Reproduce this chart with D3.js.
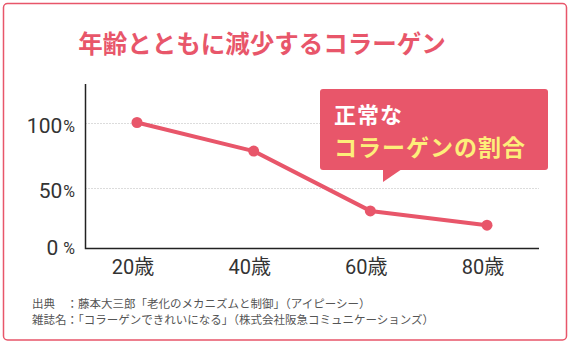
<!DOCTYPE html>
<html>
<head>
<meta charset="utf-8">
<script src="https://cdn.jsdelivr.net/npm/d3@7"></script>
<style>
  html, body { margin: 0; padding: 0; background: #fff; }
  svg { display: block; }
  text { font-family: "Noto Sans CJK JP", sans-serif; }
  .num { font-family: Roboto, "Noto Sans CJK JP", sans-serif; }
</style>
</head>
<body>
<svg id="chart" width="570" height="343"></svg>
<script>
// Collagen ratio by age (%)
const ages = ["20歳", "40歳", "60歳", "80歳"];
const collagen = [100, 78, 32, 21];
const yTicks = [0, 50, 100];
const titleText = "年齢とともに減少するコラーゲン";
const calloutLines = ["正常な", "コラーゲンの割合"];
const sources = [
  "出典　：藤本大三郎「老化のメカニズムと制御」（アイピーシー）",
  "雑誌名：「コラーゲンできれいになる」（株式会社阪急コミュニケーションズ）"
];

const RED = "#e8566a";
const YELLOW = "#fdee7a";

const svg = d3.select("#chart");

// outer frame
svg.append("rect")
  .attr("x", 3.5).attr("y", 3.5)
  .attr("width", 563).attr("height", 336.5)
  .attr("rx", 4)
  .attr("fill", "#fff")
  .attr("stroke", RED)
  .attr("stroke-width", 1.5);

// title
svg.append("text")
  .attr("x", 262).attr("y", 42)
  .attr("text-anchor", "middle")
  .attr("dominant-baseline", "central")
  .attr("font-size", 24.5)
  .attr("font-weight", 700)
  .attr("fill", RED)
  .text(titleText);

// scales
const x = d3.scalePoint().domain(ages).range([137, 487]);
const y = d3.scaleLinear().domain([0, 100]).range([252.5, 122.5]);

const axisLeft = 85.5, axisBottom = 248, axisRight = 539, axisTop = 84;

// dotted gridlines
svg.append("g")
  .selectAll("line")
  .data(yTicks.filter(d => d > 0))
  .join("line")
  .attr("x1", axisLeft).attr("x2", axisRight)
  .attr("y1", d => Math.round(y(d)) + 0.5)
  .attr("y2", d => Math.round(y(d)) + 0.5)
  .attr("stroke", "#b8b8b8")
  .attr("stroke-width", 1)
  .attr("stroke-dasharray", "1,2");

// axis lines
svg.append("path")
  .attr("d", `M${axisLeft},${axisTop}V${axisBottom + 0.5}H${axisRight}`)
  .attr("fill", "none")
  .attr("stroke", "#222")
  .attr("stroke-width", 1.5);

// y tick labels (number + smaller %)
const yl = svg.append("g")
  .selectAll("text")
  .data(yTicks)
  .join("text")
  .attr("class", "num")
  .attr("x", 75)
  .attr("y", d => d === 0 ? axisBottom : y(d) + 3)
  .attr("text-anchor", "end")
  .attr("dominant-baseline", "central")
  .attr("fill", "#333");
yl.append("tspan").attr("font-size", 21).text(d => d);
yl.append("tspan").attr("font-size", 16).attr("dx", d => d === 0 ? 5 : 1).text("%");

// x tick labels
svg.append("g")
  .selectAll("text")
  .data(ages)
  .join("text")
  .attr("class", "num")
  .attr("x", d => x(d) - 4)
  .attr("y", 267)
  .attr("text-anchor", "middle")
  .attr("dominant-baseline", "central")
  .attr("font-size", 20)
  .attr("fill", "#333")
  .text(d => d);

// line + points
const pts = ages.map((a, i) => ({ age: a, v: collagen[i] }));
svg.append("path")
  .datum(pts)
  .attr("d", d3.line().x(d => x(d.age)).y(d => y(d.v)))
  .attr("fill", "none")
  .attr("stroke", RED)
  .attr("stroke-width", 4)
  .attr("stroke-linejoin", "round");
svg.append("g")
  .selectAll("circle")
  .data(pts)
  .join("circle")
  .attr("cx", d => x(d.age))
  .attr("cy", d => y(d.v))
  .attr("r", 5.5)
  .attr("fill", RED);

// callout box
const co = svg.append("g");
co.append("rect")
  .attr("x", 320).attr("y", 89)
  .attr("width", 228).attr("height", 81)
  .attr("rx", 3)
  .attr("fill", RED);
co.append("path")
  .attr("d", "M383,169L402,169L383,182Z")
  .attr("fill", RED);
co.append("text")
  .attr("x", 334).attr("y", 113)
  .attr("dominant-baseline", "central")
  .attr("font-size", 22)
  .attr("letter-spacing", 1)
  .attr("font-weight", 700)
  .attr("fill", "#fff")
  .text(calloutLines[0]);
co.append("text")
  .attr("x", 334).attr("y", 146)
  .attr("dominant-baseline", "central")
  .attr("font-size", 23)
  .attr("letter-spacing", 1)
  .attr("font-weight", 700)
  .attr("fill", YELLOW)
  .text(calloutLines[1]);

// sources
svg.append("g")
  .selectAll("text")
  .data(sources)
  .join("text")
  .attr("x", 32)
  .attr("y", (d, i) => 302.5 + i * 16)
  .attr("dominant-baseline", "central")
  .attr("font-size", 11.5)
  .attr("fill", "#555")
  .text(d => d);
</script>
</body>
</html>
